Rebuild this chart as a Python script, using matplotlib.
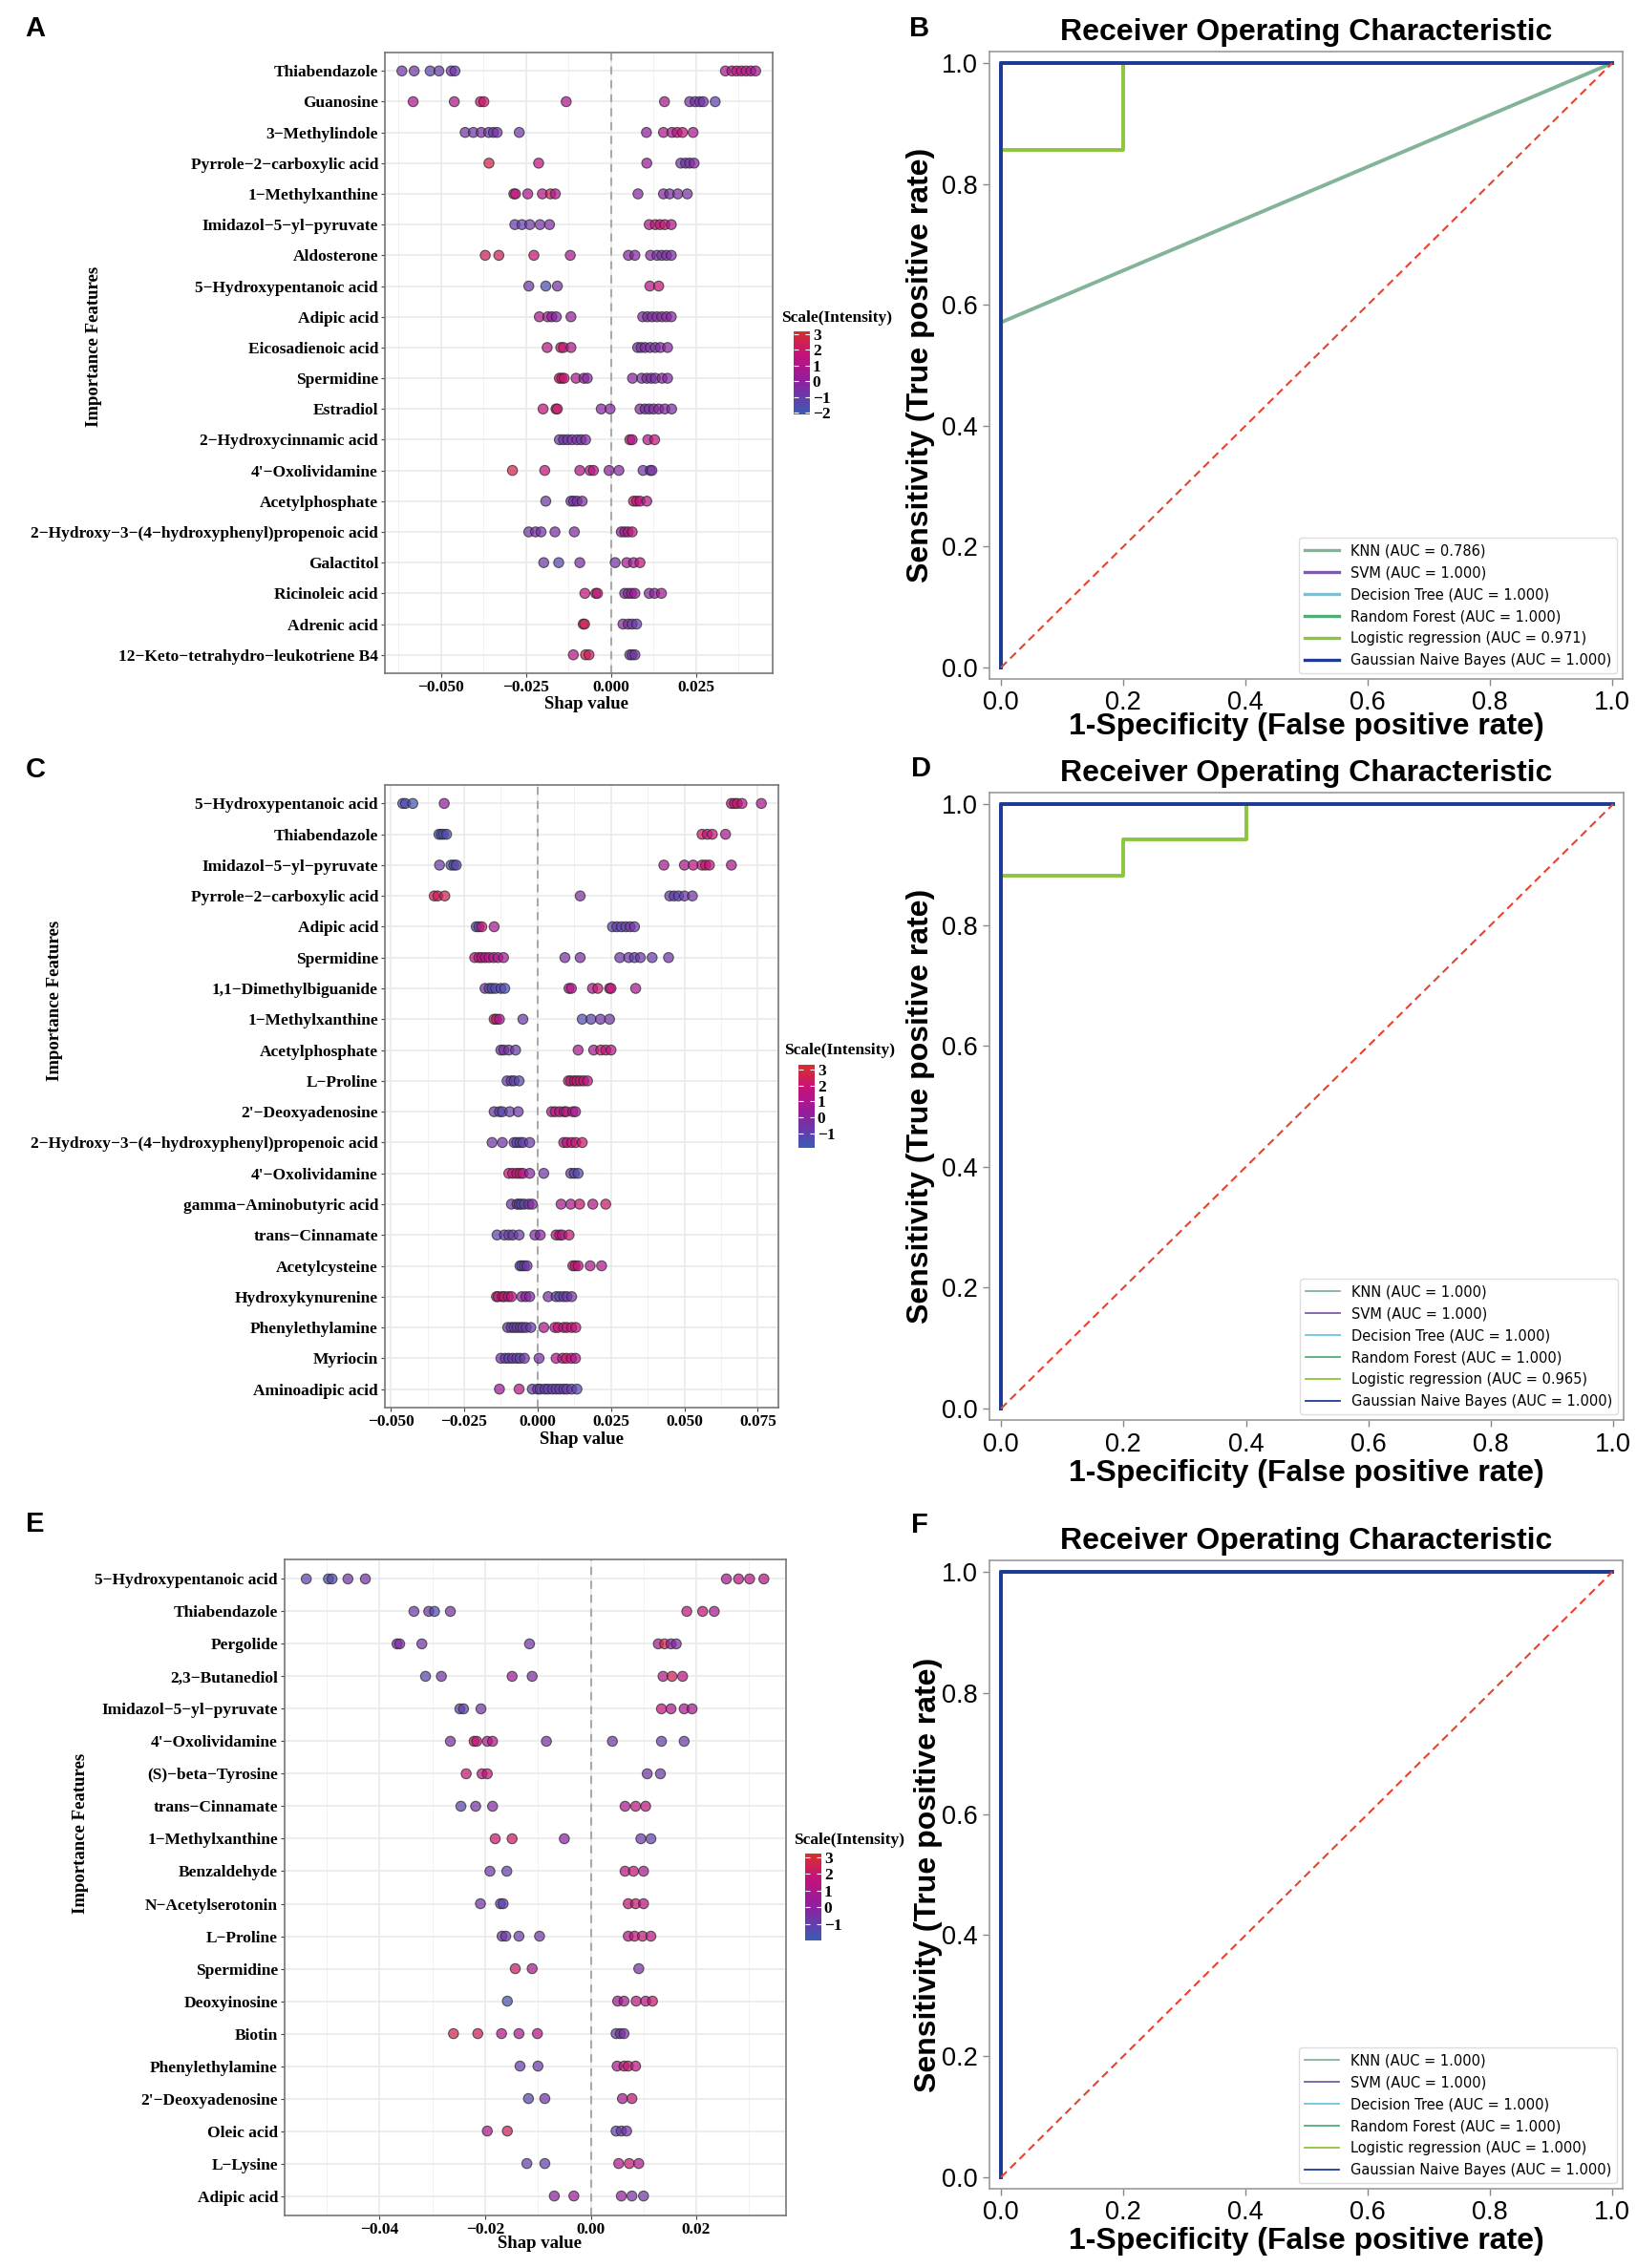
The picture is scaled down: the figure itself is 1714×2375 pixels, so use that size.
import matplotlib
matplotlib.use("Agg")
import matplotlib.pyplot as plt
from matplotlib.colors import LinearSegmentedColormap, Normalize
from matplotlib.cm import ScalarMappable
from matplotlib.ticker import FuncFormatter, MultipleLocator

plt.rcParams['font.family'] = ['Liberation Sans', 'DejaVu Sans']

W, H = 1715, 2375

# --- SHAP data, panel A ---
feats_a = ["Thiabendazole", "Guanosine", "3-Methylindole", "Pyrrole-2-carboxylic acid",
           "1-Methylxanthine", "Imidazol-5-yl-pyruvate", "Aldosterone", "5-Hydroxypentanoic acid",
           "Adipic acid", "Eicosadienoic acid", "Spermidine", "Estradiol",
           "2-Hydroxycinnamic acid", "4'-Oxolividamine", "Acetylphosphate",
           "2-Hydroxy-3-(4-hydroxyphenyl)propenoic acid", "Galactitol", "Ricinoleic acid",
           "Adrenic acid", "12-Keto-tetrahydro-leukotriene B4"]
shap_a = [
    [-0.0615, -0.0579, -0.0532, -0.0506, -0.047, -0.0459, 0.0336, 0.0355, 0.0369, 0.0383, 0.0397, 0.0411, 0.0425],
    [-0.0582, -0.0461, -0.0384, -0.0374, -0.0132, 0.0157, 0.0231, 0.0247, 0.0261, 0.0271, 0.0306],
    [-0.0429, -0.0405, -0.0382, -0.036, -0.0346, -0.0335, -0.027, 0.0104, 0.0154, 0.0179, 0.0194, 0.021, 0.0241],
    [-0.0359, -0.0213, 0.0105, 0.0205, 0.0219, 0.0231, 0.0244],
    [-0.0286, -0.0281, -0.0245, -0.0202, -0.0178, -0.0164, 0.0079, 0.0154, 0.0172, 0.0196, 0.0224],
    [-0.0283, -0.0262, -0.0239, -0.0209, -0.0181, 0.0112, 0.013, 0.0144, 0.0158, 0.0177],
    [-0.037, -0.033, -0.0227, -0.012, 0.0051, 0.007, 0.0116, 0.0135, 0.0149, 0.0163, 0.0177],
    [-0.0242, -0.0192, -0.0158, 0.0114, 0.014],
    [-0.0211, -0.0186, -0.0174, -0.0161, -0.0118, 0.0093, 0.0107, 0.0121, 0.0135, 0.0149, 0.0163, 0.0177],
    [-0.0188, -0.0148, -0.014, -0.0118, 0.0078, 0.0088, 0.01, 0.0115, 0.013, 0.0145, 0.0166],
    [-0.0152, -0.0145, -0.0138, -0.0103, -0.008, -0.007, 0.0063, 0.009, 0.0105, 0.0118, 0.013, 0.015, 0.0166],
    [-0.02, -0.0162, -0.0158, -0.0029, -0.0003, 0.0085, 0.01, 0.0112, 0.0125, 0.014, 0.0158, 0.0178],
    [-0.0152, -0.014, -0.0128, -0.0115, -0.01, -0.0088, -0.0075, 0.0055, 0.0062, 0.0108, 0.0128],
    [-0.029, -0.0195, -0.0092, -0.0062, -0.0052, -0.0006, 0.0023, 0.0094, 0.0115, 0.012],
    [-0.0192, -0.0118, -0.011, -0.01, -0.0085, 0.0066, 0.0075, 0.0085, 0.0105],
    [-0.0242, -0.0222, -0.0206, -0.0165, -0.0108, 0.003, 0.004, 0.005, 0.0062],
    [-0.0198, -0.0154, -0.0092, 0.0012, 0.0046, 0.0066, 0.0085],
    [-0.0077, -0.0045, -0.004, 0.004, 0.005, 0.006, 0.007, 0.0112, 0.0128, 0.0148],
    [-0.0082, -0.0078, 0.0035, 0.005, 0.0062, 0.0075],
    [-0.0111, -0.0075, -0.0065, 0.0055, 0.0062, 0.007],
]
inten_a = [
    [-0.8, -0.8, -1.3, -1.0, -0.8, -0.9, 0.8, 1.2, 1.5, 1.3, 1.2, 0.9, 0.6],
    [0.8, 1.0, 2.0, 2.0, 0.8, 0.8, -0.7, -0.5, -1.0, -0.8, -1.2],
    [-0.8, -0.8, -0.6, -0.9, -1.0, -0.7, -0.8, 0.0, 0.9, 0.6, 1.5, 1.7, 0.8],
    [2.6, 1.5, 0.3, -0.8, -0.9, -0.6, -0.3],
    [1.8, 1.5, 0.8, 1.0, 2.3, 1.0, -0.3, -0.3, -0.6, -0.5, -0.6],
    [-1.0, -1.2, -0.8, -0.7, -0.4, 1.0, 1.8, 1.6, 1.8, 1.0],
    [2.3, 2.3, 1.8, 0.8, -0.2, -0.2, -0.2, -0.5, -0.6, -0.4, -0.5],
    [-0.8, -1.7, -0.6, 1.2, 1.8],
    [1.0, 0.8, 0.0, -0.3, 0.2, -0.3, -0.6, -0.3, -0.5, -0.4, -0.3, -0.2],
    [1.2, 2.0, 1.8, 1.0, -0.8, -0.5, -0.6, -0.4, -0.7, -0.3, -0.2],
    [1.8, 2.2, 1.8, 0.9, 0.2, -0.3, -0.2, -0.6, -0.3, -0.5, -0.6, -0.2, -0.3],
    [1.6, 2.2, 2.0, -0.2, -0.2, -0.3, -0.5, -0.8, -0.4, -0.2, -0.3, -0.5],
    [-0.8, -0.7, -1.0, -0.5, -0.6, -0.9, -0.4, 1.8, 1.0, 1.0, 1.6],
    [2.6, 1.6, 1.0, 1.5, 1.2, 0.0, -0.3, -0.8, -1.0, -0.6],
    [-0.8, -0.6, -0.9, -0.4, -0.6, 2.0, 1.8, 1.5, 1.0],
    [-0.8, -0.6, -0.8, -0.5, -0.4, 0.2, 0.5, 1.0, 1.5],
    [-1.0, -1.5, -0.5, -0.7, 0.6, 0.5, 1.6],
    [1.6, 2.0, 1.5, -0.3, -0.5, 0.5, 0.2, -0.4, 0.0, 0.5],
    [2.5, 2.4, -0.2, -0.4, -0.8, -1.0],
    [1.2, 2.6, 2.2, -0.6, -0.9, -0.7],
]

# --- SHAP data, panel C ---
feats_c = ["5-Hydroxypentanoic acid", "Thiabendazole", "Imidazol-5-yl-pyruvate", "Pyrrole-2-carboxylic acid",
           "Adipic acid", "Spermidine", "1,1-Dimethylbiguanide", "1-Methylxanthine", "Acetylphosphate",
           "L-Proline", "2'-Deoxyadenosine", "2-Hydroxy-3-(4-hydroxyphenyl)propenoic acid",
           "4'-Oxolividamine", "gamma-Aminobutyric acid", "trans-Cinnamate", "Acetylcysteine",
           "Hydroxykynurenine", "Phenylethylamine", "Myriocin", "Aminoadipic acid"]
shap_c = [
    [-0.0459, -0.045, -0.0425, -0.0318, 0.066, 0.067, 0.068, 0.0696, 0.0762],
    [-0.0336, -0.0328, -0.032, -0.031, 0.056, 0.0578, 0.0595, 0.064],
    [-0.0334, -0.0295, -0.0285, -0.0277, 0.043, 0.05, 0.053, 0.056, 0.0572, 0.0585, 0.066],
    [-0.0352, -0.034, -0.0316, 0.0145, 0.045, 0.0465, 0.048, 0.05, 0.0527],
    [-0.0209, -0.02, -0.019, -0.0148, 0.0255, 0.027, 0.0285, 0.03, 0.0315, 0.033],
    [-0.0214, -0.02, -0.019, -0.0178, -0.0165, -0.015, -0.0135, -0.0116, 0.0093, 0.0145, 0.028, 0.031, 0.033, 0.035, 0.039, 0.0446],
    [-0.0179, -0.0165, -0.0155, -0.0143, -0.0125, -0.0112, 0.0107, 0.0115, 0.0187, 0.0205, 0.0245, 0.025, 0.0334],
    [-0.0148, -0.014, -0.013, -0.005, 0.0152, 0.0182, 0.0214, 0.0245],
    [-0.0125, -0.0115, -0.0098, -0.0075, 0.0138, 0.0191, 0.0215, 0.0232, 0.025],
    [-0.0104, -0.009, -0.008, -0.0063, 0.0105, 0.0113, 0.0125, 0.0134, 0.0145, 0.0157, 0.017],
    [-0.0148, -0.013, -0.012, -0.0095, -0.0066, 0.0048, 0.006, 0.0075, 0.009, 0.0098, 0.012, 0.0129],
    [-0.0155, -0.012, -0.008, -0.0071, -0.006, -0.005, -0.0027, 0.0089, 0.01, 0.0116, 0.013, 0.0152],
    [-0.0098, -0.0085, -0.0071, -0.006, -0.005, -0.0027, 0.0021, 0.0113, 0.0125, 0.0138],
    [-0.0089, -0.007, -0.0063, -0.0055, -0.0045, -0.003, -0.0018, 0.008, 0.0113, 0.0143, 0.0188, 0.0232],
    [-0.0138, -0.0113, -0.0098, -0.0084, -0.0063, -0.0009, 0.0009, 0.0063, 0.0075, 0.0084, 0.0107],
    [-0.006, -0.0054, -0.0045, -0.0036, 0.012, 0.0128, 0.0138, 0.0179, 0.0218],
    [-0.014, -0.0134, -0.012, -0.0113, -0.01, -0.0089, -0.0054, -0.004, -0.0027, 0.0036, 0.0063, 0.0075, 0.0089, 0.01, 0.0116],
    [-0.0102, -0.009, -0.008, -0.007, -0.0059, -0.005, -0.0039, -0.0023, 0.0021, 0.0059, 0.007, 0.0089, 0.01, 0.0116, 0.013],
    [-0.0125, -0.011, -0.0098, -0.0085, -0.0071, -0.006, -0.0045, 0.0005, 0.0063, 0.0085, 0.0098, 0.0115, 0.0129],
    [-0.013, -0.0063, -0.0018, 0.0, 0.0009, 0.0025, 0.0036, 0.005, 0.0063, 0.0075, 0.0089, 0.01, 0.0116, 0.0134],
]
inten_c = [
    [-1.5, -1.3, -1.6, 0.3, 2.0, 1.8, 2.2, 1.5, 1.0],
    [-1.5, -1.4, -1.6, -1.3, 2.2, 1.8, 2.0, 1.0],
    [-0.8, -1.5, -1.4, -1.2, 1.0, 1.0, 1.5, 1.8, 2.2, 1.8, 1.0],
    [2.5, 2.3, 2.6, -0.3, -1.0, -0.8, -1.2, -0.7, -0.5],
    [-1.5, -1.0, 2.0, 0.8, -1.0, -0.8, -1.2, -0.9, -0.6, -0.7],
    [1.8, 1.6, 1.5, 1.2, 1.6, 1.0, 1.2, 0.8, -0.4, -0.3, -0.6, -0.8, -1.0, -0.7, -0.8, -0.6],
    [-0.5, -1.0, -1.2, -1.4, -1.0, -1.5, 1.0, 1.2, 1.0, 2.0, 1.5, 1.8, 1.0],
    [2.5, 2.2, 1.0, -0.8, -1.4, -1.0, -0.6, -0.5],
    [-0.6, -0.3, -0.5, -0.8, 1.0, 1.0, 2.0, 1.8, 1.5],
    [-0.8, -1.0, -0.9, -1.2, 1.8, 2.0, 1.6, 2.2, 1.8, 2.0, 1.5],
    [-0.6, -1.0, -1.2, -0.8, -0.6, 1.5, 1.2, 1.6, 1.0, 1.4, 1.2, 0.8],
    [-0.6, -0.5, -1.0, -0.8, -1.2, -0.9, -0.7, 1.0, 1.5, 2.0, 1.8, 2.2],
    [2.0, 1.8, 1.5, 2.2, 1.6, 0.0, -0.6, -0.8, -1.0, -1.2],
    [-0.6, -0.8, -1.0, -0.9, -1.2, -0.6, 0.0, 1.0, 1.0, 2.0, 1.2, 2.2],
    [-1.0, -0.8, -1.0, -0.6, -0.8, -0.3, 0.0, 1.5, 1.8, 1.2, 2.0],
    [-1.0, -1.3, -0.8, -0.6, 1.5, 2.0, 1.8, 1.0, 1.2],
    [1.5, 2.0, 1.8, 2.2, 1.5, 1.6, 0.0, 0.3, -0.2, -0.5, -0.8, -1.0, -1.2, -0.6, -0.6],
    [-0.6, -0.8, -1.0, -0.8, -0.9, -1.2, -0.6, -0.8, 1.0, 1.5, 1.8, 2.0, 1.6, 2.2, 1.5],
    [-0.6, -0.8, -1.0, -0.6, -0.9, -1.2, -0.6, -0.4, 1.2, 1.6, 2.0, 1.8, 1.0],
    [0.5, 1.5, -0.8, -0.6, -1.0, -0.8, -1.2, -0.9, -1.0, -0.8, -0.6, -1.0, -0.8, -1.2],
]

# --- SHAP data, panel E ---
feats_e = ["5-Hydroxypentanoic acid", "Thiabendazole", "Pergolide", "2,3-Butanediol",
           "Imidazol-5-yl-pyruvate", "4'-Oxolividamine", "(S)-beta-Tyrosine", "trans-Cinnamate",
           "1-Methylxanthine", "Benzaldehyde", "N-Acetylserotonin", "L-Proline", "Spermidine",
           "Deoxyinosine", "Biotin", "Phenylethylamine", "2'-Deoxyadenosine", "Oleic acid",
           "L-Lysine", "Adipic acid"]
shap_e = [
    [-0.0539, -0.0497, -0.049, -0.046, -0.0427, 0.0257, 0.028, 0.0301, 0.0328],
    [-0.0335, -0.0307, -0.0296, -0.0266, 0.0182, 0.0212, 0.0234],
    [-0.0367, -0.0362, -0.032, -0.0116, 0.0128, 0.014, 0.0152, 0.0162],
    [-0.0313, -0.0283, -0.0149, -0.0111, 0.0137, 0.0154, 0.0174],
    [-0.0248, -0.0241, -0.0208, 0.0134, 0.0152, 0.0177, 0.0192],
    [-0.0266, -0.0221, -0.0216, -0.0196, -0.0186, -0.0084, 0.0041, 0.0134, 0.0177],
    [-0.0236, -0.0206, -0.0196, 0.0107, 0.0132],
    [-0.0246, -0.0218, -0.0186, 0.0065, 0.0085, 0.0104],
    [-0.0181, -0.0149, -0.005, 0.0095, 0.0114],
    [-0.0191, -0.0159, 0.0065, 0.0081, 0.01],
    [-0.0209, -0.0171, -0.0166, 0.0071, 0.0085, 0.01],
    [-0.0168, -0.0161, -0.0136, -0.0097, 0.0071, 0.0083, 0.0098, 0.0114],
    [-0.0143, -0.0111, 0.0091],
    [-0.0158, 0.0051, 0.0063, 0.0086, 0.0104, 0.0117],
    [-0.026, -0.0214, -0.0169, -0.0136, -0.0101, 0.0048, 0.0056, 0.0063],
    [-0.0134, -0.01, 0.005, 0.0063, 0.0071, 0.0085],
    [-0.0118, -0.0087, 0.006, 0.0078],
    [-0.0196, -0.0158, 0.0048, 0.0058, 0.0068],
    [-0.0121, -0.0087, 0.0053, 0.0073, 0.0091],
    [-0.0069, -0.0032, 0.0058, 0.0078, 0.01],
]
inten_e = [
    [-1.0, -1.6, -1.4, -0.6, -0.5, 0.8, 1.5, 1.4, 1.2],
    [-0.8, -0.6, -1.5, -0.5, 1.6, 1.8, 0.8],
    [-0.5, -0.3, -0.6, -0.6, 0.8, 2.8, 0.0, -0.3],
    [-1.2, -0.6, 0.6, -0.4, 1.2, 2.4, 1.5],
    [-1.2, -1.0, -0.6, 1.8, 1.0, 1.0, 0.8],
    [-0.4, 2.0, 1.8, 1.0, 1.2, -0.5, -0.6, -1.0, -0.8],
    [2.0, 1.5, 1.8, -0.6, -0.8],
    [-1.2, -0.6, -0.3, 1.0, 1.6, 1.5],
    [2.0, 2.2, 0.0, -0.8, -1.0],
    [-0.8, -1.0, 1.5, 1.8, 0.8],
    [-0.6, -1.2, -1.0, 1.8, 2.0, 1.5],
    [-0.6, -0.8, -0.8, -0.7, 1.2, 1.6, 2.0, 1.5],
    [2.2, 0.8, -0.5],
    [-1.6, 0.8, 0.8, 1.6, 1.4, 2.0],
    [2.6, 2.3, 1.2, 1.0, 1.3, -1.0, -0.6, -0.4],
    [-1.0, -0.8, 1.0, 1.6, 2.0, 1.6],
    [-1.2, -0.6, 0.8, 1.8],
    [1.0, 2.4, -1.2, -0.9, -0.5],
    [-1.0, -1.0, 1.0, 2.0, 1.0],
    [0.0, 0.5, 0.2, -0.5, -0.7],
]

# --- ROC data ---
models = ["KNN", "SVM", "Decision Tree", "Random Forest", "Logistic regression", "Gaussian Naive Bayes"]
model_colors = ["#82b497", "#7b5ea7", "#6cc6de", "#4fae75", "#8cc63e", "#1f3a96"]

fpr_b = [[0, 0, 1], [0, 0, 1], [0, 0, 1], [0, 0, 1], [0, 0, 0.2, 0.2, 1], [0, 0, 1]]
tpr_b = [[0, 0.571, 1], [0, 1, 1], [0, 1, 1], [0, 1, 1], [0, 0.857, 0.857, 1, 1], [0, 1, 1]]
auc_b = [0.786, 1.000, 1.000, 1.000, 0.971, 1.000]

fpr_d = [[0, 0, 1], [0, 0, 1], [0, 0, 1], [0, 0, 1], [0, 0, 0.2, 0.2, 0.4, 0.4, 1], [0, 0, 1]]
tpr_d = [[0, 1, 1], [0, 1, 1], [0, 1, 1], [0, 1, 1], [0, 0.882, 0.882, 0.941, 0.941, 1, 1], [0, 1, 1]]
auc_d = [1.000, 1.000, 1.000, 1.000, 0.965, 1.000]

fpr_f = [[0, 0, 1]] * 6
tpr_f = [[0, 1, 1]] * 6
auc_f = [1.000] * 6

cmap = LinearSegmentedColormap.from_list(
    "scale", [(0.0, "#3a5bb5"), (0.42, "#951c9e"), (0.72, "#c4127a"), (1.0, "#d8302c")])

SERIF = "Liberation Serif"
fig = plt.figure(figsize=(W / 100, H / 100), dpi=100)


def box(x0, y0, x1, y1):
    return [x0 / W, 1 - y1 / H, (x1 - x0) / W, (y1 - y0) / H]


def ftext(x, y, s, **kw):
    fig.text(x / W, 1 - y / H, s, **kw)


def minus(s):
    return s.replace("-", "\u2212")


def shap_panel(rect, feats, shap, inten, xlim, xticks, fmt, vmin, vmax, cbar_rect, cbar_ticks):
    ax = fig.add_axes(box(*rect))
    n = len(feats)
    norm = Normalize(vmin, vmax)
    for i in range(n):
        ax.scatter(shap[i], [n - i] * len(shap[i]), c=inten[i], cmap=cmap, norm=norm,
                   s=56, alpha=0.72, edgecolors="#262626", linewidths=0.8, zorder=3)
    ax.axvline(0, color="#a9a9a9", lw=1.5, ls=(0, (4, 3)), zorder=2)
    ax.set_xlim(*xlim)
    ax.set_ylim(0.4, n + 0.6)
    ax.set_yticks(range(n, 0, -1))
    ax.set_yticklabels([minus(f) for f in feats])
    ax.set_xticks(xticks)
    ax.xaxis.set_major_formatter(FuncFormatter(lambda v, p: minus(fmt % v)))
    ax.xaxis.set_minor_locator(MultipleLocator((xticks[1] - xticks[0]) / 2))
    ax.set_axisbelow(True)
    ax.grid(True, which="major", color="#e8e8e8", lw=1.1)
    ax.grid(True, which="minor", axis="x", color="#f2f2f2", lw=0.7)
    ax.tick_params(which="minor", length=0)
    ax.tick_params(which="major", length=3, width=0.8, color="#444444", pad=2, labelsize=12.5)
    for lab in ax.get_xticklabels() + ax.get_yticklabels():
        lab.set_fontfamily(SERIF)
        lab.set_fontweight("bold")
    for sp in ax.spines.values():
        sp.set_color("#777777")
        sp.set_linewidth(1.2)

    cax = fig.add_axes(box(*cbar_rect))
    cb = fig.colorbar(ScalarMappable(norm=norm, cmap=cmap), cax=cax)
    cb.set_ticks(cbar_ticks)
    cb.outline.set_visible(False)
    cax.tick_params(axis="y", direction="in", length=3.5, width=0.8, color="white",
                    left=True, right=True, labelcolor="black", labelsize=12.5, pad=2)
    for lab in cax.get_yticklabels():
        lab.set_fontfamily(SERIF)
        lab.set_fontweight("bold")
    return ax


def roc_panel(rect, fprs, tprs, aucs, legend_lw):
    ax = fig.add_axes(box(*rect))
    for name, col, fx, ty, auc in zip(models, model_colors, fprs, tprs, aucs):
        ax.plot(fx, ty, color=col, lw=2.8, label=f"{name} (AUC = {auc:.3f})")
    ax.plot([0, 1], [0, 1], color="#e8412c", lw=1.5, ls=(0, (4, 2.5)))
    ax.set_xlim(-0.019, 1.017)
    ax.set_ylim(-0.019, 1.019)
    ticks = [0, 0.2, 0.4, 0.6, 0.8, 1.0]
    ax.set_xticks(ticks)
    ax.set_yticks(ticks)
    ax.xaxis.set_major_formatter(FuncFormatter(lambda v, p: "%.1f" % v))
    ax.yaxis.set_major_formatter(FuncFormatter(lambda v, p: "%.1f" % v))
    ax.tick_params(labelsize=19.5, length=5, width=1, color="#888888", pad=4)
    for sp in ax.spines.values():
        sp.set_color("#999999")
        sp.set_linewidth(1.2)
    ax.set_title("Receiver Operating Characteristic", fontsize=23, fontweight="bold", pad=8.5)
    leg = ax.legend(loc="lower right", prop={"family": "DejaVu Sans", "size": 10.5},
                    handlelength=2.5, labelspacing=0.55, borderaxespad=0.4,
                    edgecolor="#dddddd", framealpha=1)
    for line in leg.get_lines():
        line.set_linewidth(legend_lw)
    return ax


# --- panels ---
shap_panel((403, 55, 809, 705), feats_a, shap_a, inten_a, (-0.0665, 0.0475),
           [-0.05, -0.025, 0.0, 0.025], "%.3f", -2.12, 3.18, (831, 347, 848, 434), [3, 2, 1, 0, -1, -2])
shap_panel((403, 822, 815, 1474), feats_c, shap_c, inten_c, (-0.052, 0.082),
           [-0.05, -0.025, 0.0, 0.025, 0.05, 0.075], "%.3f", -1.9, 3.3, (836, 1115, 853, 1202), [3, 2, 1, 0, -1])
shap_panel((298, 1633, 823, 2320), feats_e, shap_e, inten_e, (-0.058, 0.037),
           [-0.04, -0.02, 0.0, 0.02], "%.2f", -2.0, 3.23, (843, 1941, 860, 2032), [3, 2, 1, 0, -1])

roc_panel((1036, 54, 1699, 711), fpr_b, tpr_b, auc_b, 2.4)
roc_panel((1036, 830, 1700, 1487), fpr_d, tpr_d, auc_d, 1.3)
roc_panel((1036, 1634, 1699, 2292), fpr_f, tpr_f, auc_f, 1.3)

# --- axis titles (SHAP) ---
serif_kw = dict(fontfamily=SERIF, fontweight="bold", ha="center", va="center")
for x, y in [(99, 363), (58, 1048), (85, 1920)]:
    ftext(x, y, "Importance Features", rotation=90, fontsize=13.5, **serif_kw)
for x, y in [(614, 737), (609, 1508), (565, 2349)]:
    ftext(x, y, "Shap value", fontsize=13.5, **serif_kw)
for x, y in [(818, 333), (821, 1100), (831, 1927)]:
    ftext(x, y, "Scale(Intensity)", fontsize=12.5, fontfamily=SERIF, fontweight="bold",
          ha="left", va="center")

# --- axis titles (ROC) ---
for y in [761, 1543, 2347]:
    ftext(1368, y, "1-Specificity (False positive rate)", fontsize=23, fontweight="bold",
          ha="center", va="center")
for x, y in [(964, 382), (964, 1158), (972, 1963)]:
    ftext(x, y, "Sensitivity (True positive rate)", fontsize=23, fontweight="bold",
          ha="center", va="center", rotation=90)

# --- panel letters ---
for s, x, y in [("A", 37, 30), ("B", 963, 30), ("C", 37, 806), ("D", 965, 805),
                ("E", 37, 1596), ("F", 963, 1597)]:
    ftext(x, y, s, fontsize=21, fontweight="bold", ha="center", va="center")

fig.savefig("out.png", dpi=100)
